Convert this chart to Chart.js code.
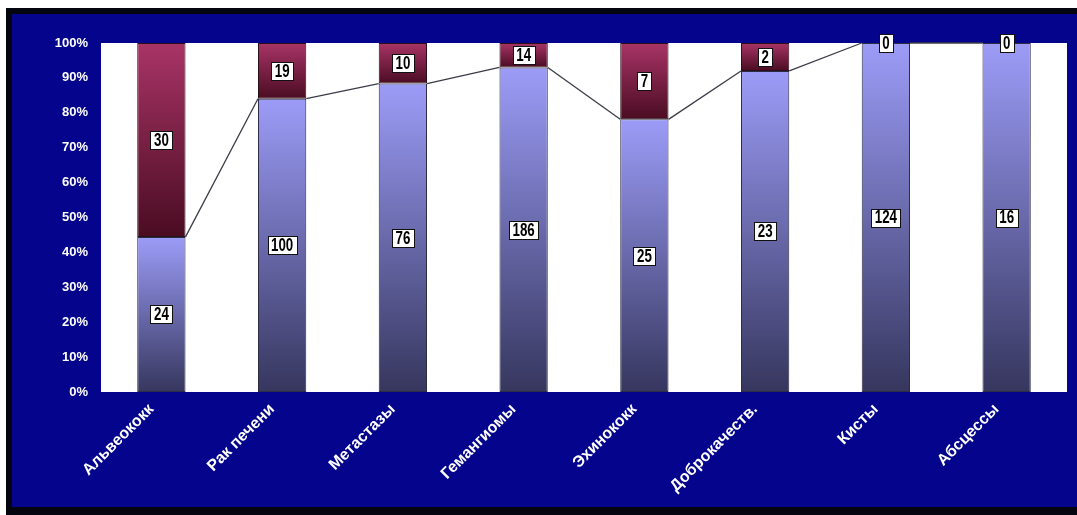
<!DOCTYPE html>
<html>
<head>
<meta charset="utf-8">
<script src="https://cdn.jsdelivr.net/npm/chart.js@4.4.1/dist/chart.umd.min.js"></script>
<style>
    html, body { margin: 0; padding: 0; background: #fff; }
    #wrap { width: 1077px; height: 515px; position: relative; }
</style>
</head>
<body>
<div id="wrap"><canvas id="grafico"></canvas></div>
<script>
const categorias = ["Альвеококк", "Рак печени", "Метастазы", "Гемангиомы", "Эхинококк", "Доброкачеств.", "Кисты", "Абсцессы"];
const valoresAzul = [24, 100, 76, 186, 25, 23, 124, 16];
const valoresRojo = [30, 19, 10, 14, 7, 2, 0, 0];
const ticksY = [0, 10, 20, 30, 40, 50, 60, 70, 80, 90, 100];

const totales = valoresAzul.map((v, i) => v + valoresRojo[i]);
const pctAzul = valoresAzul.map((v, i) => (v / totales[i]) * 100);
const pctRojo = valoresRojo.map((v, i) => (v / totales[i]) * 100);

function degradado(context, arriba, abajo, inicio) {
    const chart = context.chart;
    const y = chart.scales.y;
    if (!chart.chartArea || !y) return arriba;
    const i = context.dataIndex;
    const base = inicio(i);
    const tope = base + context.dataset.data[i];
    const y0 = y.getPixelForValue(tope);
    const y1 = y.getPixelForValue(base);
    if (!isFinite(y0) || !isFinite(y1) || y1 - y0 < 1) return arriba;
    const g = chart.ctx.createLinearGradient(0, y0, 0, y1);
    g.addColorStop(0, arriba);
    g.addColorStop(1, abajo);
    return g;
}

const fondo = {
    id: "fondo",
    beforeDraw(chart) {
        const ctx = chart.ctx;
        const a = chart.chartArea;
        ctx.save();
        ctx.fillStyle = "#ffffff";
        ctx.fillRect(0, 0, chart.width, chart.height);
        ctx.fillStyle = "#05050f";
        ctx.fillRect(6, 8, chart.width - 6, chart.height - 8);
        ctx.fillStyle = "#04048c";
        ctx.fillRect(12, 14, chart.width - 12, chart.height - 22);
        ctx.fillStyle = "#ffffff";
        ctx.fillRect(a.left, a.top, a.right - a.left, a.bottom - a.top);
        ctx.restore();
    },
};

const lineasSerie = {
    id: "lineasSerie",
    afterDatasetsDraw(chart) {
        const meta = chart.getDatasetMeta(0);
        const ctx = chart.ctx;
        ctx.save();
        ctx.strokeStyle = "#3c3c48";
        ctx.lineWidth = 1.3;
        for (let i = 0; i < meta.data.length - 1; i++) {
            const a = meta.data[i];
            const b = meta.data[i + 1];
            ctx.beginPath();
            ctx.moveTo(a.x + a.width / 2, a.y);
            ctx.lineTo(b.x - b.width / 2, b.y);
            ctx.stroke();
        }
        ctx.restore();
    },
};

const etiquetas = {
    id: "etiquetas",
    afterDatasetsDraw(chart) {
        const ctx = chart.ctx;
        const escala = 0.74;
        ctx.save();
        ctx.font = "bold 18px 'Liberation Sans', Arial, sans-serif";
        ctx.textAlign = "center";
        ctx.textBaseline = "middle";
        const fuentes = [valoresAzul, valoresRojo];
        fuentes.forEach((valores, d) => {
            const meta = chart.getDatasetMeta(d);
            meta.data.forEach((el, i) => {
                const texto = String(valores[i]);
                const cx = el.x;
                const cy = (el.y + el.base) / 2;
                const w = Math.round(ctx.measureText(texto).width * escala + 7);
                const h = 18;
                const bx = Math.round(cx - w / 2) + 0.5;
                const by = Math.round(cy - h / 2) + 0.5;
                ctx.fillStyle = "#ffffff";
                ctx.fillRect(bx, by, w, h);
                ctx.strokeStyle = "#111";
                ctx.lineWidth = 1;
                ctx.strokeRect(bx, by, w, h);
                ctx.save();
                ctx.translate(cx, cy + 1);
                ctx.scale(escala, 1);
                ctx.fillStyle = "#000";
                ctx.fillText(texto, 0, 0);
                ctx.restore();
            });
        });
        ctx.restore();
    },
};

new Chart(document.getElementById("grafico"), {
    type: "bar",
    data: {
        labels: categorias,
        datasets: [
            {
                label: "azul",
                data: pctAzul,
                backgroundColor: (c) => degradado(c, "#9c9cf8", "#36365e", () => 0),
                borderColor: "#2c2c44",
                borderWidth: 1,
                borderSkipped: false,
                barPercentage: 0.4,
                categoryPercentage: 1,
            },
            {
                label: "rojo",
                data: pctRojo,
                backgroundColor: (c) => degradado(c, "#a83466", "#4a0c22", (i) => pctAzul[i]),
                borderColor: "#2a1018",
                borderWidth: 1,
                borderSkipped: false,
                barPercentage: 0.4,
                categoryPercentage: 1,
            },
        ],
    },
    options: {
        responsive: true,
        maintainAspectRatio: false,
        animation: false,
        layout: { padding: { top: 43, right: 10, left: 0, bottom: 0 } },
        scales: {
            x: {
                stacked: true,
                grid: { display: false },
                border: { display: false },
                afterFit: (s) => { s.height = 123; },
                ticks: {
                    color: "#ffffff",
                    font: { family: "'Liberation Sans', Arial, sans-serif", size: 16, weight: "bold" },
                    maxRotation: 45,
                    minRotation: 45,
                    padding: 0,
                    labelOffset: -10,
                    autoSkip: false,
                },
            },
            y: {
                stacked: true,
                min: 0,
                max: 100,
                grid: { display: false },
                border: { display: false },
                afterFit: (s) => { s.width = 101; },
                afterBuildTicks: (s) => { s.ticks = ticksY.map((v) => ({ value: v })); },
                ticks: {
                    color: "#ffffff",
                    padding: 5,
                    font: { family: "'Liberation Sans', Arial, sans-serif", size: 13, weight: "bold" },
                    callback: (v) => v + "%",
                },
            },
        },
        plugins: {
            legend: { display: false },
            tooltip: { enabled: false },
        },
    },
    plugins: [fondo, lineasSerie, etiquetas],
});
</script>
</body>
</html>
